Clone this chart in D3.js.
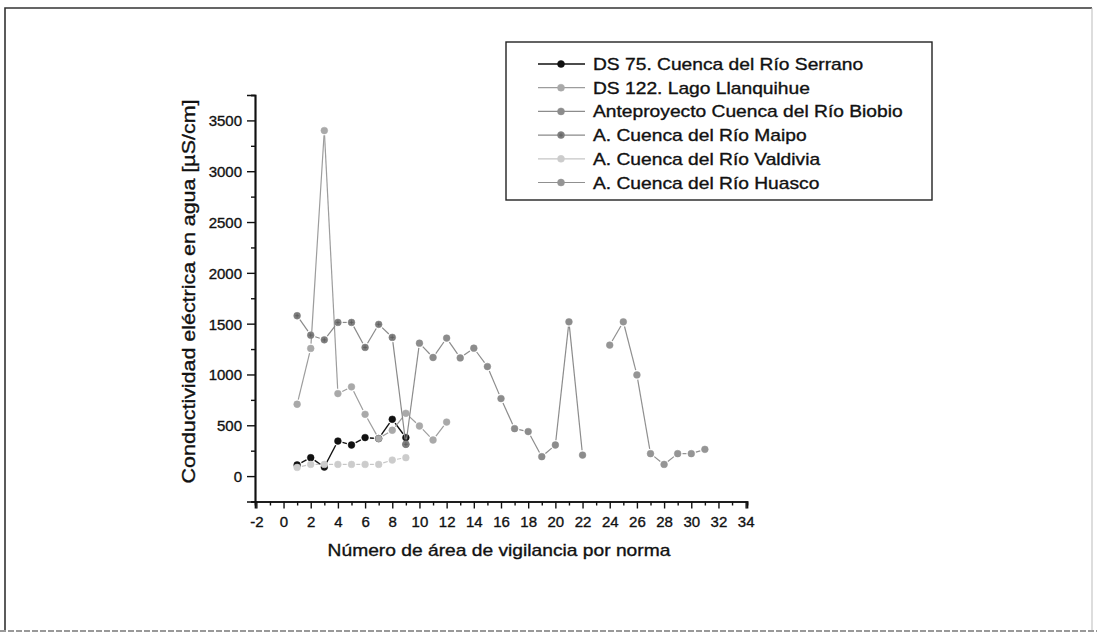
<!DOCTYPE html>
<html>
<head>
<meta charset="utf-8">
<script src="https://cdn.jsdelivr.net/npm/d3@7/dist/d3.min.js"></script>
<style>
  html, body { margin: 0; padding: 0; background: #fff; }
  svg { display: block; }
  text { font-family: "Liberation Sans", Arial, sans-serif; fill: #111; }
</style>
</head>
<body>
<svg id="chart" width="1097" height="633"></svg>
<script>
// ---------- data ----------
const seriesNames = [
  "DS 75. Cuenca del Río Serrano",
  "DS 122. Lago Llanquihue",
  "Anteproyecto Cuenca del Río Biobio",
  "A. Cuenca del Río Maipo",
  "A. Cuenca del Río Valdivia",
  "A. Cuenca del Río Huasco"
];
const xSerrano = [1, 2, 3, 4, 5, 6, 7, 8, 9];
const ySerrano = [110, 181, 89, 345, 306, 379, 369, 559, 379];

const xLlanquihue = [1, 2, 3, 4, 5, 6, 7, 8, 9, 10, 11, 12];
const yLlanquihue = [707, 1256, 3400, 812, 878, 608, 369, 451, 618, 493, 355, 532];

const xBiobio = [9, 10, 11, 12, 13, 14, 15, 16, 17, 18, 19, 20, 21, 22];
const yBiobio = [313, 1308, 1167, 1358, 1163, 1259, 1078, 763, 467, 438, 191, 306, 1518, 207];

const xMaipo = [1, 2, 3, 4, 5, 6, 7, 8, 9];
const yMaipo = [1578, 1387, 1341, 1512, 1512, 1266, 1493, 1365, 313];

const xValdivia = [1, 2, 3, 4, 5, 6, 7, 8, 9];
const yValdivia = [85, 115, 115, 115, 115, 115, 115, 158, 181];

const xHuasco = [24, 25, 26, 27, 28, 29, 30, 31];
const yHuasco = [1289, 1518, 996, 221, 115, 221, 221, 263];

const xTickValues = d3.range(-2, 35, 2);
const yTickValues = d3.range(0, 3501, 500);
const xTitle = "Número de área de vigilancia por norma";
const yTitle = "Conductividad eléctrica en agua [µS/cm]";

// ---------- styles ----------
const styles = [
  { marker: "#111111", line: "#111111", lw: 1.4 },
  { marker: "#a9a9a9", line: "#9d9d9d", lw: 1.2 },
  { marker: "#8c8c8c", line: "#8c8c8c", lw: 1.2 },
  { marker: "#7e7e7e", line: "#8a8a8a", lw: 1.2, cross: true },
  { marker: "#cccccc", line: "#c6c6c6", lw: 1.2 },
  { marker: "#959595", line: "#909090", lw: 1.2 }
];
const seriesX = [xSerrano, xLlanquihue, xBiobio, xMaipo, xValdivia, xHuasco];
const seriesY = [ySerrano, yLlanquihue, yBiobio, yMaipo, yValdivia, yHuasco];

const svg = d3.select("#chart");
const W = 1097, H = 633;

// outer frame
svg.append("path").attr("d", "M5,631V8H1092")
  .attr("fill", "none").attr("stroke", "#333").attr("stroke-width", 1.6);
svg.append("line").attr("x1", 1092).attr("x2", 1092).attr("y1", 8).attr("y2", 631)
  .attr("stroke", "#bbb").attr("stroke-width", 1);
svg.append("line").attr("x1", 0).attr("x2", W).attr("y1", 631).attr("y2", 631)
  .attr("stroke", "#999").attr("stroke-width", 2).attr("stroke-dasharray", "6,2");

const x = d3.scaleLinear().domain([-2.1, 34.1]).range([255, 747]);
const y = d3.scaleLinear().domain([-250, 3750]).range([501.5, 95]);

// axes
const xAxisMinor = d3.axisBottom(x).tickValues(d3.range(-1, 34, 2)).tickSize(4).tickFormat("");
const xAxis = d3.axisBottom(x).tickValues(xTickValues).tickSize(7).tickPadding(6).tickFormat(d3.format("d"));
const yAxisMinor = d3.axisLeft(y).tickValues(d3.range(-250, 3751, 500)).tickSize(4).tickFormat("");
const yAxis = d3.axisLeft(y).tickValues(yTickValues).tickSize(8).tickPadding(5).tickFormat(d3.format("d"));

function styleAxis(g) {
  g.select(".domain").attr("stroke", "#111").attr("stroke-width", 1.7);
  g.selectAll(".tick line").attr("stroke", "#111").attr("stroke-width", 1.4);
  g.selectAll(".tick text").attr("font-size", 15).attr("fill", "#111")
    .attr("stroke", "#111").attr("stroke-width", 0.35)
    .attr("font-family", "'Liberation Sans', Arial, sans-serif");
}
const gxm = svg.append("g").attr("transform", "translate(0,501.5)").call(xAxisMinor); styleAxis(gxm);
const gx = svg.append("g").attr("transform", "translate(0,501.5)").call(xAxis); styleAxis(gx);
gx.selectAll(".tick text").attr("dy", null).attr("y", 25.5);
gx.selectAll(".tick text").text(d => d < 0 ? "-" + Math.abs(d) : d);
const gym = svg.append("g").attr("transform", "translate(255,0)").call(yAxisMinor); styleAxis(gym);
const gy = svg.append("g").attr("transform", "translate(255,0)").call(yAxis); styleAxis(gy);
gy.selectAll(".tick text").attr("dy", "0.36em");

// stretched text helper
function stretch(sel, factor) {
  sel.each(function () {
    const len = this.getComputedTextLength();
    d3.select(this).attr("textLength", len * factor).attr("lengthAdjust", "spacingAndGlyphs");
  });
}

// axis titles
const xt = svg.append("text").attr("x", 499).attr("y", 556).attr("text-anchor", "middle")
  .attr("font-size", 17).attr("stroke", "#111").attr("stroke-width", 0.35).text(xTitle);
stretch(xt, 1.13);
const yt = svg.append("text").attr("transform", "translate(195,291.5) rotate(-90)")
  .attr("text-anchor", "middle").attr("font-size", 18).attr("stroke", "#111").attr("stroke-width", 0.35).text(yTitle);
stretch(yt, 1.19);

// series
const r = 3.4, gap = 4.8;
seriesX.forEach((xs, si) => {
  const st = styles[si];
  const pts = xs.map((xv, i) => [x(xv), y(seriesY[si][i])]);
  const g = svg.append("g");
  const segs = [];
  for (let i = 0; i < pts.length - 1; i++) {
    const [x0, y0] = pts[i], [x1, y1] = pts[i + 1];
    const dx = x1 - x0, dy = y1 - y0, L = Math.hypot(dx, dy);
    if (L > 2 * gap) {
      const ux = dx / L, uy = dy / L;
      segs.push([x0 + ux * gap, y0 + uy * gap, x1 - ux * gap, y1 - uy * gap]);
    }
  }
  g.selectAll("line").data(segs).join("line")
    .attr("x1", d => d[0]).attr("y1", d => d[1]).attr("x2", d => d[2]).attr("y2", d => d[3])
    .attr("stroke", st.line).attr("stroke-width", st.lw);
  g.selectAll("circle").data(pts).join("circle")
    .attr("cx", d => d[0]).attr("cy", d => d[1]).attr("r", r)
    .attr("fill", st.marker).attr("stroke", st.marker).attr("stroke-width", 0.5);
  if (st.cross) {
    g.selectAll("path.cross").data(pts).join("path").attr("class", "cross")
      .attr("d", d => `M${d[0] - 2},${d[1]}H${d[0] + 2}M${d[0]},${d[1] - 2}V${d[1] + 2}`)
      .attr("stroke", "#5a5a5a").attr("stroke-width", 0.7);
  }
});

// legend
const lg = svg.append("g");
lg.append("rect").attr("x", 506).attr("y", 42).attr("width", 426).attr("height", 158)
  .attr("fill", "#fff").attr("stroke", "#222").attr("stroke-width", 1.4);
seriesNames.forEach((name, i) => {
  const st = styles[i];
  const cy = 64 + i * 23.7;
  lg.append("line").attr("x1", 538).attr("x2", 585).attr("y1", cy).attr("y2", cy)
    .attr("stroke", st.line).attr("stroke-width", st.lw);
  lg.append("circle").attr("cx", 561).attr("cy", cy).attr("r", 3.5).attr("fill", st.marker)
    .attr("stroke", st.marker).attr("stroke-width", 0.5);
  if (st.cross) {
    lg.append("path").attr("d", `M559,${cy}H563M561,${cy - 2}V${cy + 2}`)
      .attr("stroke", "#5a5a5a").attr("stroke-width", 0.7);
  }
  const t = lg.append("text").attr("x", 593).attr("y", cy + 6).attr("font-size", 17)
    .attr("stroke", "#111").attr("stroke-width", 0.35).text(name);
  stretch(t, 1.13);
});
</script>
</body>
</html>
